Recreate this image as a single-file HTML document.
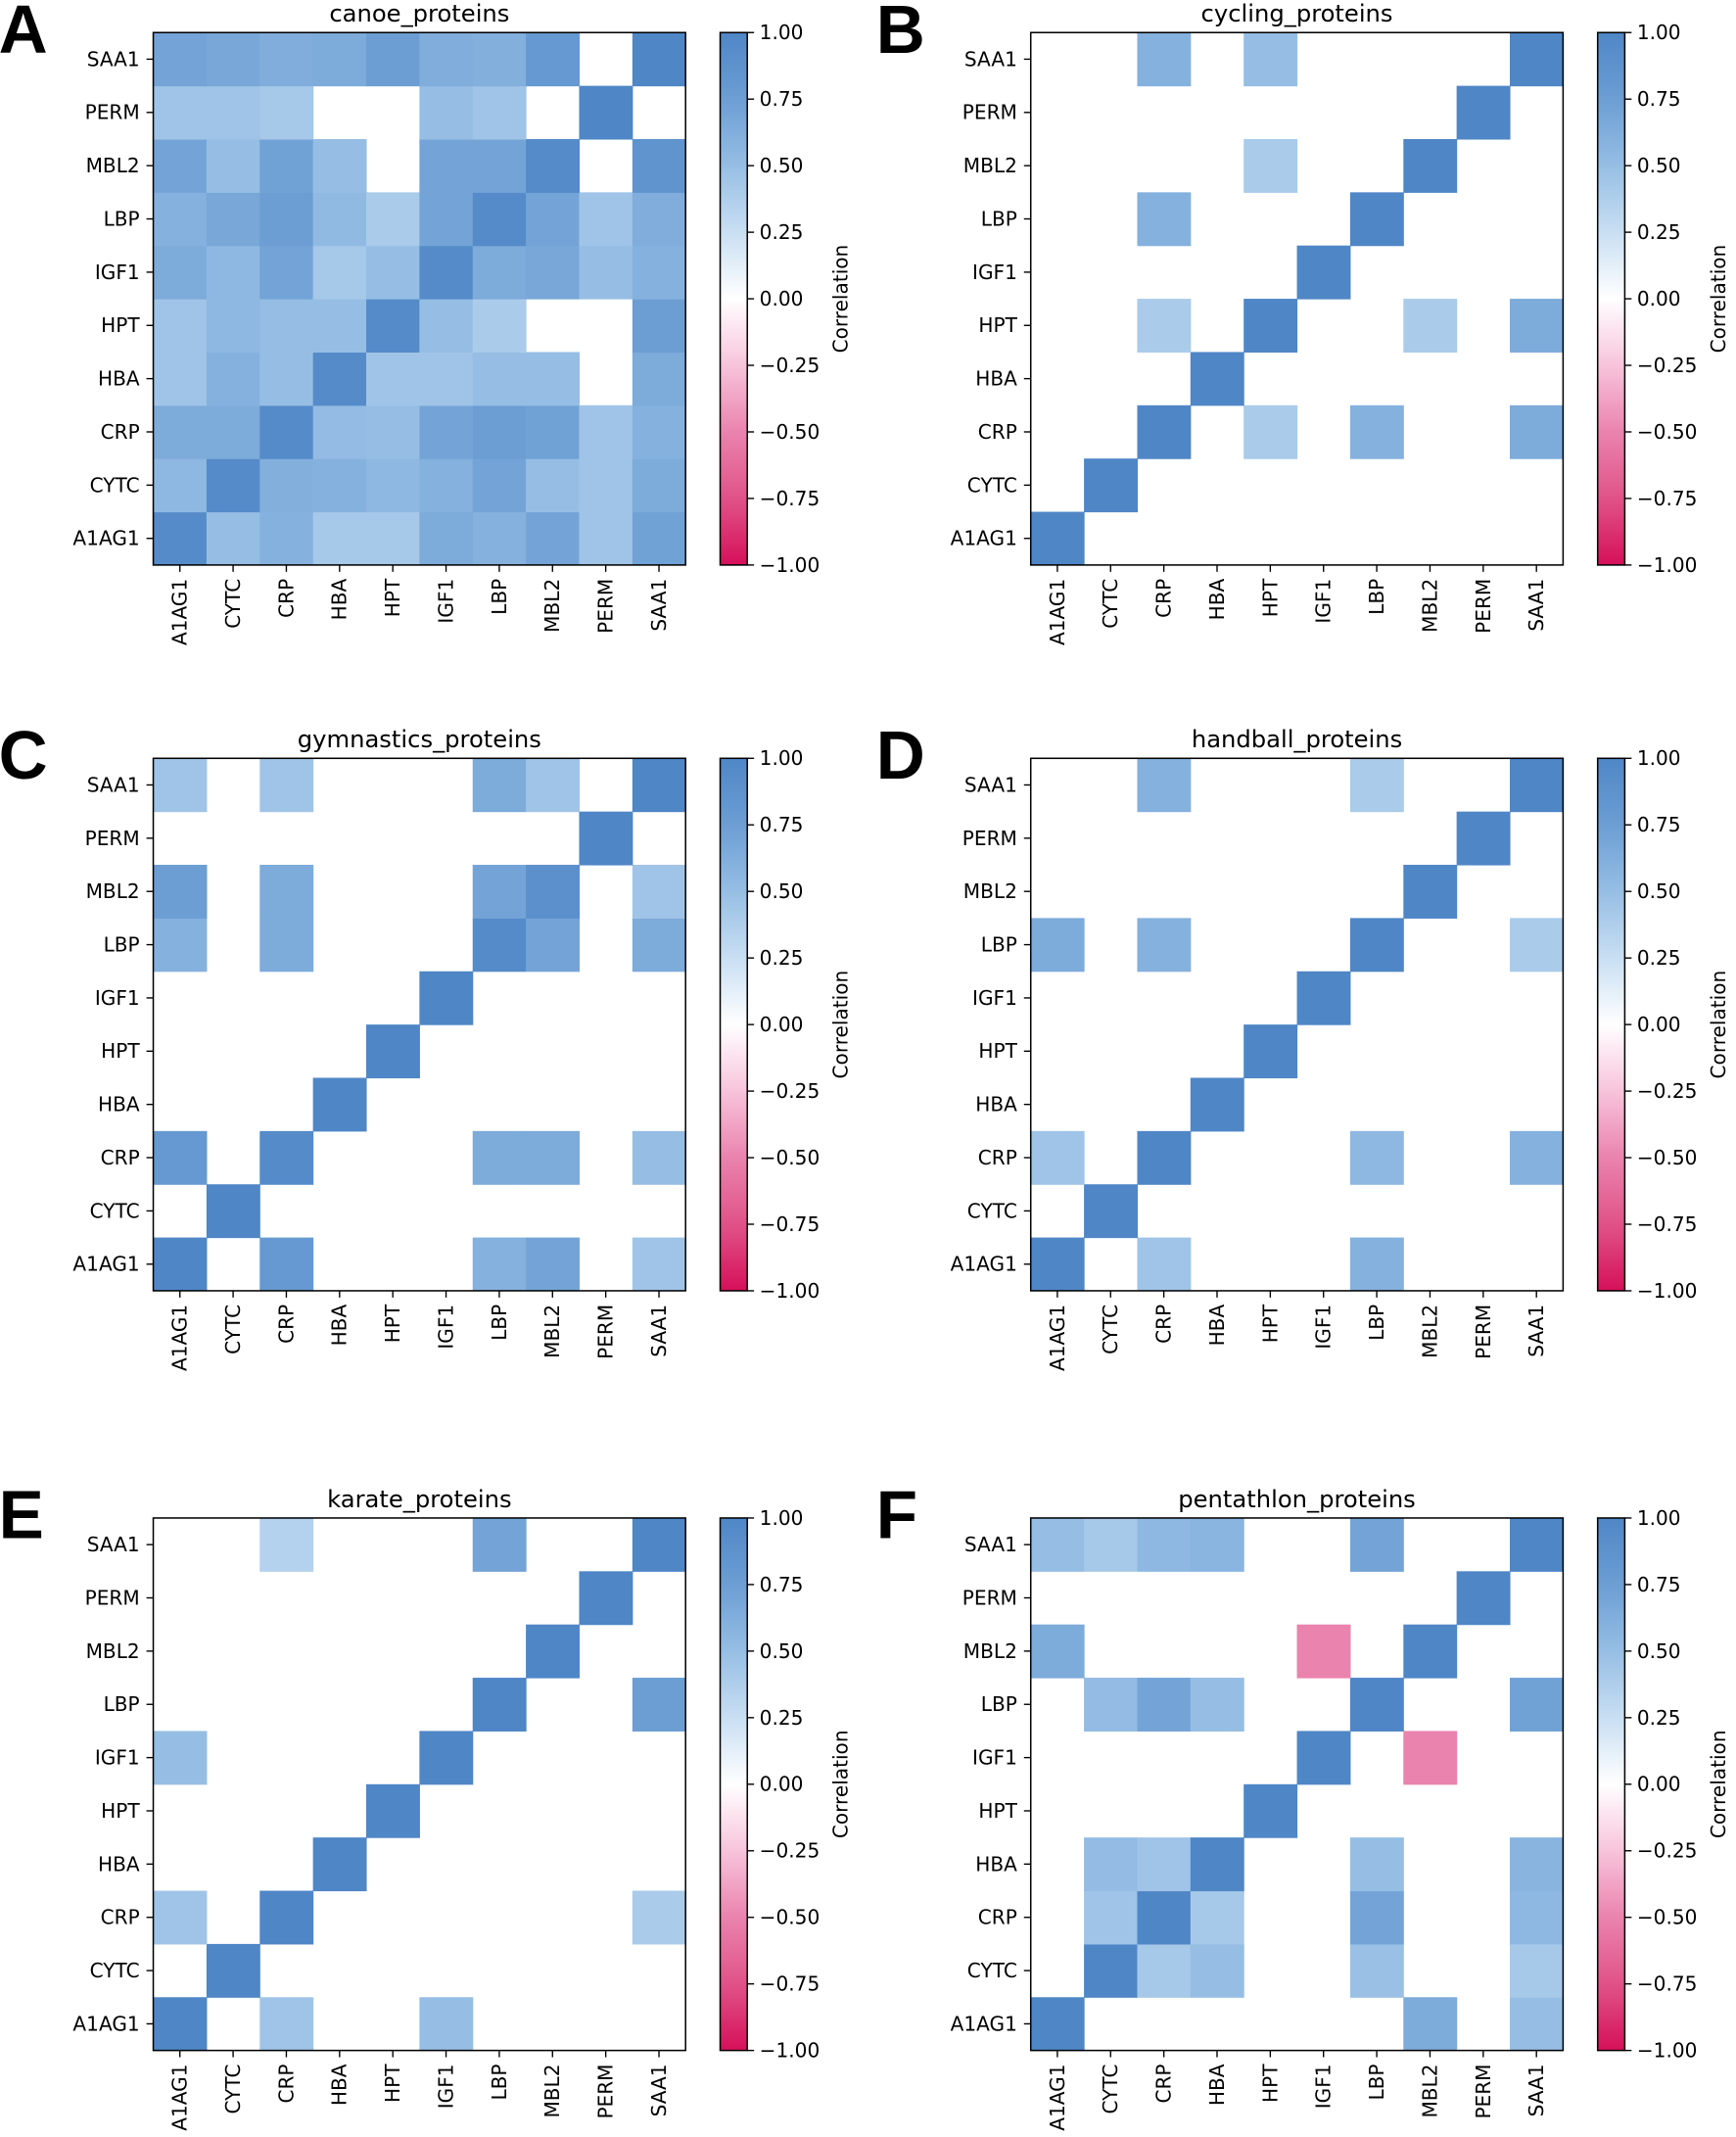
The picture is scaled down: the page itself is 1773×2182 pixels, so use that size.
<!DOCTYPE html>
<html><head><meta charset="utf-8"><style>html,body{margin:0;padding:0;background:#fff}svg{display:block}</style></head>
<body>
<svg id="s" xmlns="http://www.w3.org/2000/svg" width="1773" height="2182" viewBox="0 0 1280 1575.3" font-family="'DejaVu Sans','Liberation Sans',sans-serif"></svg>
<script>
const L=["A1AG1","CYTC","CRP","HBA","HPT","IGF1","LBP","MBL2","PERM","SAA1"];
function lerp(a,b,t){return a.map((x,i)=>Math.round(x+(b[i]-x)*t));}
const pos=[[0,[255,255,255]],[.25,[200,222,243]],[.5,[150,190,228]],[.75,[108,158,212]],[1,[79,134,198]]];
const neg=[[0,[255,255,255]],[.25,[248,196,220]],[.5,[234,131,174]],[.75,[224,84,136]],[1,[214,16,90]]];
function col(v){const st=v>=0?pos:neg;const a=Math.min(1,Math.abs(v));for(let i=1;i<st.length;i++){if(a<=st[i][0]){const t=(a-st[i-1][0])/(st[i][0]-st[i-1][0]);const c=lerp(st[i-1][1],st[i][1],t);return `rgb(${c})`;}}return `rgb(${st[4][1]})`;}
function sparse(entries){const m=L.map(()=>L.map(()=>0));for(let i=0;i<10;i++)m[i][i]=1;for(const [r,c,v] of entries){m[L.indexOf(r)][L.indexOf(c)]=v;}return m;}
const canoeRows=[
[.7,.68,.63,.65,.75,.63,.62,.8,0,1],
[.45,.45,.42,0,0,.5,.45,0,1,0],
[.7,.5,.72,.5,0,.7,.7,.95,0,.85],
[.6,.68,.75,.53,.4,.7,.95,.7,.45,.63],
[.65,.55,.7,.42,.5,.95,.65,.68,.5,.6],
[.45,.55,.5,.5,.95,.5,.4,0,0,.75],
[.45,.6,.5,.95,.45,.45,.5,.5,0,.65],
[.65,.65,.95,.52,.5,.7,.75,.72,.45,.6],
[.55,.95,.62,.6,.55,.6,.7,.5,.45,.65],
[.95,.5,.6,.42,.42,.65,.6,.7,.45,.72]];
const canoe=L.map((_,i)=>canoeRows[9-i]);
const panels=[
["A","canoe_proteins",0,0,canoe],
["B","cycling_proteins",647,0,sparse([["SAA1","CRP",.6],["SAA1","HPT",.5],["MBL2","HPT",.4],["LBP","CRP",.6],["HPT","CRP",.4],["HPT","MBL2",.4],["HPT","SAA1",.65],["CRP","HPT",.4],["CRP","LBP",.6],["CRP","SAA1",.65]])],
["C","gymnastics_proteins",0,535,sparse([["SAA1","A1AG1",.45],["SAA1","CRP",.45],["SAA1","LBP",.65],["SAA1","MBL2",.45],["MBL2","A1AG1",.75],["MBL2","CRP",.65],["MBL2","LBP",.7],["MBL2","MBL2",.9],["MBL2","SAA1",.45],["LBP","A1AG1",.6],["LBP","CRP",.65],["LBP","LBP",.95],["LBP","MBL2",.7],["LBP","SAA1",.65],["CRP","A1AG1",.8],["CRP","CRP",.95],["CRP","LBP",.65],["CRP","MBL2",.65],["CRP","SAA1",.5],["A1AG1","CRP",.8],["A1AG1","LBP",.6],["A1AG1","MBL2",.7],["A1AG1","SAA1",.45]])],
["D","handball_proteins",647,535,sparse([["SAA1","CRP",.6],["SAA1","LBP",.4],["LBP","A1AG1",.65],["LBP","CRP",.6],["LBP","SAA1",.4],["CRP","A1AG1",.45],["CRP","LBP",.55],["CRP","SAA1",.6],["A1AG1","CRP",.45],["A1AG1","LBP",.6]])],
["E","karate_proteins",0,1095,sparse([["SAA1","CRP",.35],["SAA1","LBP",.7],["LBP","SAA1",.75],["IGF1","A1AG1",.5],["CRP","A1AG1",.45],["CRP","SAA1",.4],["A1AG1","CRP",.45],["A1AG1","IGF1",.5]])],
["F","pentathlon_proteins",647,1095,sparse([["SAA1","A1AG1",.5],["SAA1","CYTC",.42],["SAA1","CRP",.55],["SAA1","HBA",.57],["SAA1","LBP",.7],["MBL2","A1AG1",.65],["MBL2","IGF1",-.5],["LBP","CYTC",.52],["LBP","CRP",.7],["LBP","HBA",.5],["LBP","SAA1",.72],["IGF1","MBL2",-.5],["HBA","CYTC",.52],["HBA","CRP",.45],["HBA","LBP",.5],["HBA","SAA1",.58],["CRP","CYTC",.45],["CRP","HBA",.42],["CRP","LBP",.7],["CRP","SAA1",.55],["CYTC","CRP",.42],["CYTC","HBA",.5],["CYTC","LBP",.48],["CYTC","SAA1",.42],["A1AG1","MBL2",.65],["A1AG1","SAA1",.5]])]];
let h="<defs><linearGradient id='cb' x1='0' y1='0' x2='0' y2='1'>";
for(let i=0;i<=20;i++){const v=1-i/10;h+=`<stop offset='${i/20}' stop-color='${col(v)}'/>`;}
h+="</linearGradient></defs>";
for(const [let_,title,ox,oy,m] of panels){
 const x0=ox+113,y0=oy+24,c=39.25,W=392.5;
 h+=`<text x='${ox-1}' y='${oy+39}' font-size='50' font-weight='bold' font-family="'Liberation Sans',sans-serif">${let_}</text>`;
 h+=`<text x='${x0+W/2}' y='${oy+16}' font-size='17.5' text-anchor='middle'>${title}</text>`;
 for(let i=0;i<10;i++)for(let j=0;j<10;j++){const v=m[i][j];if(v!==0)h+=`<rect x='${x0+j*c}' y='${y0+(9-i)*c}' width='${c+0.4}' height='${c+0.4}' fill='${col(v)}'/>`;}
 h+=`<rect x='${x0}' y='${y0}' width='${W}' height='${W}' fill='none' stroke='#000' stroke-width='1.1'/>`;
 for(let k=0;k<10;k++){
  const yc=y0+(9-k)*c+c/2, xc=x0+k*c+c/2;
  h+=`<line x1='${x0-5}' x2='${x0}' y1='${yc}' y2='${yc}' stroke='#000'/>`;
  h+=`<text x='${x0-10}' y='${yc+5}' font-size='14.5' text-anchor='end'>${L[k]}</text>`;
  h+=`<line x1='${xc}' x2='${xc}' y1='${y0+W}' y2='${y0+W+5}' stroke='#000'/>`;
  h+=`<text transform='translate(${xc+5},${y0+W+10}) rotate(-90)' font-size='14.5' text-anchor='end'>${L[k]}</text>`;
 }
 const cx=ox+531,cw=20;
 h+=`<rect x='${cx}' y='${y0}' width='${cw}' height='${W}' fill='url(#cb)' stroke='#000' stroke-width='1.1'/>`;
 for(let i=0;i<=8;i++){const v=1-i*0.25,yy=y0+i*W/8;const lab=v<0?"\u2212"+Math.abs(v).toFixed(2):v.toFixed(2);
  h+=`<line x1='${cx+cw}' x2='${cx+cw+5}' y1='${yy}' y2='${yy}' stroke='#000'/>`;
  h+=`<text x='${cx+cw+9}' y='${yy+5}' font-size='14.5'>${lab}</text>`;}
 h+=`<text transform='translate(${ox+625},${y0+W/2}) rotate(-90)' font-size='14.5' text-anchor='middle'>Correlation</text>`;
}
document.getElementById("s").innerHTML=h;
</script>
</body></html>
